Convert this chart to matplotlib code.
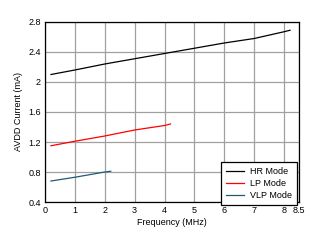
import matplotlib
matplotlib.use("Agg")
import matplotlib.pyplot as plt

plt.rcParams['font.family'] = ['Liberation Sans', 'DejaVu Sans']

hr_x = [0.2, 1, 2, 3, 4, 5, 6, 7, 8, 8.2]
hr_y = [2.10, 2.16, 2.24, 2.31, 2.38, 2.45, 2.52, 2.58, 2.67, 2.69]
lp_x = [0.2, 1, 2, 3, 4, 4.2]
lp_y = [1.15, 1.21, 1.28, 1.36, 1.42, 1.44]
vlp_x = [0.2, 1, 2, 2.2]
vlp_y = [0.68, 0.73, 0.80, 0.81]

xticks = [0, 1, 2, 3, 4, 5, 6, 7, 8, 8.5]
xticklabels = ['0', '1', '2', '3', '4', '5', '6', '7', '8', '8.5']
yticks = [0.4, 0.8, 1.2, 1.6, 2.0, 2.4, 2.8]
yticklabels = ['0.4', '0.8', '1.2', '1.6', '2', '2.4', '2.8']

fig = plt.figure(figsize=(3.16, 2.43), dpi=100)
ax = fig.add_axes([0.1424, 0.1687, 0.8038, 0.7408])

ax.plot(hr_x, hr_y, color='black', lw=0.9, label='HR Mode')
ax.plot(lp_x, lp_y, color='#ff0000', lw=0.9, label='LP Mode')
ax.plot(vlp_x, vlp_y, color='#1f5a78', lw=0.9, label='VLP Mode')

ax.set_xlim(0, 8.5)
ax.set_ylim(0.4, 2.8)
ax.set_xticks(xticks)
ax.set_xticklabels(xticklabels)
ax.set_yticks(yticks)
ax.set_yticklabels(yticklabels)
ax.grid(True, color='#a0a0a0', lw=0.9)
ax.set_axisbelow(True)
ax.tick_params(length=0, labelsize=6.5, pad=3)
for s in ax.spines.values():
    s.set_linewidth(0.9)
    s.set_color('black')

ax.set_xlabel('Frequency (MHz)', fontsize=6.5, labelpad=2)
ax.set_ylabel('AVDD Current (mA)', fontsize=6.5, labelpad=4)

leg = ax.legend(loc='lower right', bbox_to_anchor=(0.993, -0.017),
                fontsize=6.5, frameon=True, fancybox=False,
                borderaxespad=0, handlelength=2.0, handletextpad=0.7,
                labelspacing=0.35, borderpad=0.55)
leg.get_frame().set_edgecolor('black')
leg.get_frame().set_linewidth(0.9)
leg.get_frame().set_alpha(1)

fig.savefig('out.png', dpi=100)
